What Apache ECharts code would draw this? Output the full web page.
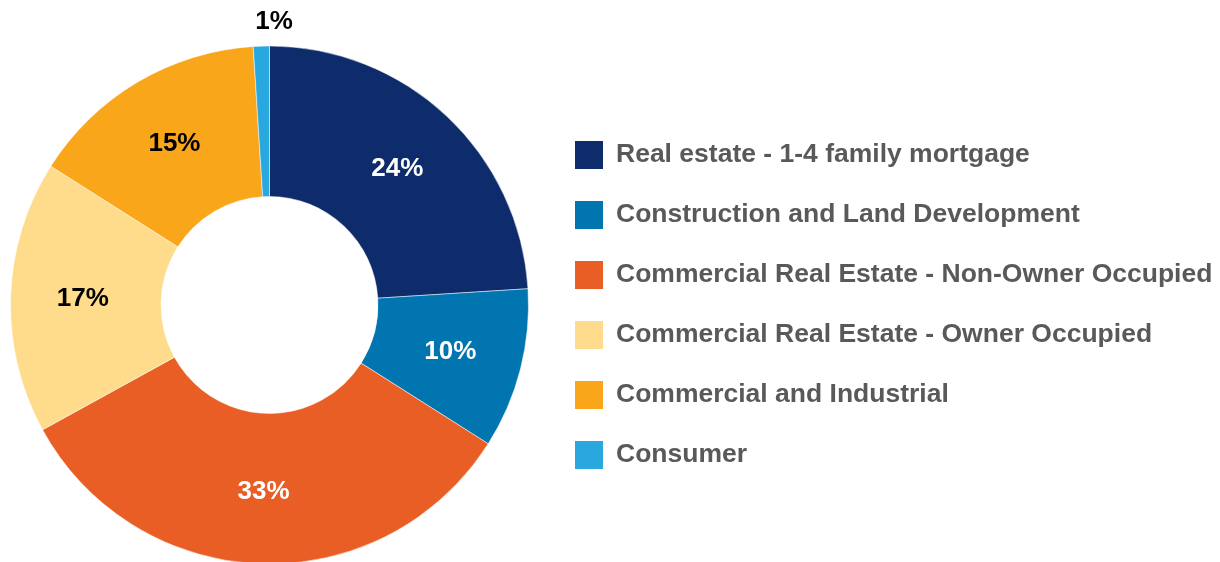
<!DOCTYPE html>
<html>
<head>
<meta charset="utf-8">
<script src="https://cdn.jsdelivr.net/npm/echarts@6/dist/echarts.min.js"></script>
<style>
  html, body { margin: 0; padding: 0; background: #fff; }
  #chart { width: 1220px; height: 562px; }
</style>
</head>
<body>
<div id="chart"></div>
<script>
const categories = [
  'Real estate - 1-4 family mortgage',
  'Construction and Land Development',
  'Commercial Real Estate - Non-Owner Occupied',
  'Commercial Real Estate - Owner Occupied',
  'Commercial and Industrial',
  'Consumer'
]
const shares = [24, 10, 33, 17, 15, 1]
const colors = ['#0e2c6b', '#0075b0', '#e85e24', '#fedc8c', '#f9a61a', '#29a8e0']
const labelColors = ['#fff', '#fff', '#fff', '#000', '#000', '#000']

const chart = echarts.init(document.getElementById('chart'), null, { renderer: 'canvas' })

const data = categories.map((name, i) => {
  const item = {
    name,
    value: shares[i],
    itemStyle: { color: colors[i] },
    label: { color: labelColors[i] }
  }
  // the tiny slice gets its label above the ring
  if (i === 5) {
    item.label.position = 'outside'
    item.labelLine = { show: false, length: 8, length2: 0 }
  }
  return item
})

chart.setOption({
  backgroundColor: '#fff',
  animation: false,
  legend: {
    orient: 'vertical',
    left: 575,
    top: 141,
    padding: 0,
    itemWidth: 28,
    itemHeight: 28,
    itemGap: 32,
    icon: 'rect',
    selectedMode: false,
    itemStyle: { borderWidth: 0 },
    textStyle: {
      color: '#595959',
      fontSize: 26.5,
      fontWeight: 'bold',
      fontFamily: 'Liberation Sans, Arial, sans-serif',
      padding: [6, 0, 0, 8]
    },
    data: categories
  },
  series: [{
    type: 'pie',
    center: [269.5, 305],
    radius: [108.5, 259],
    startAngle: 90,
    clockwise: true,
    avoidLabelOverlap: false,
    itemStyle: { borderColor: '#fff', borderWidth: 0.5 },
    label: {
      show: true,
      position: 'inside',
      formatter: p => p.value + '%',
      fontSize: 26,
      fontWeight: 'bold',
      fontFamily: 'Liberation Sans, Arial, sans-serif'
    },
    labelLayout: p => p.dataIndex === 5 ? { align: 'center', verticalAlign: 'bottom', dx: 18, dy: -3 } : {},
    emphasis: { disabled: true },
    data
  }]
})
</script>
</body>
</html>
